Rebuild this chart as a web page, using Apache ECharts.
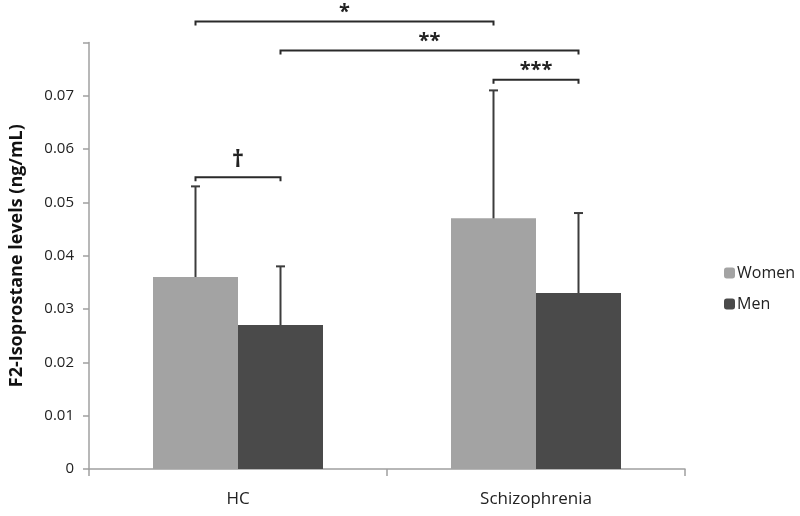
<!DOCTYPE html>
<html>
<head>
<meta charset="utf-8">
<script src="https://cdn.jsdelivr.net/npm/echarts@6/dist/echarts.min.js"></script>
<style>html,body{margin:0;padding:0;background:#fff}#c{width:800px;height:516px}</style>
</head>
<body>
<div id="c"></div>
<script>
// ---- data ----
const categories = ['HC', 'Schizophrenia'];
const womenMean = [0.036, 0.047];
const womenUpper = [0.053, 0.071];
const menMean = [0.027, 0.033];
const menUpper = [0.038, 0.048];
const yTicks = [0, 0.01, 0.02, 0.03, 0.04, 0.05, 0.06, 0.07];
// significance brackets: from (category, sex) to (category, sex), level, label  (sex: 0 women, 1 men)
const sigFromCat = [0, 0, 1, 0];
const sigFromSex = [0, 1, 0, 0];
const sigToCat = [1, 1, 1, 0];
const sigToSex = [0, 1, 1, 1];
const sigLevel = [0.0839, 0.0785, 0.0730, 0.0547];
const sigLabels = ['*', '**', '***', '\u2020'];

const FONT = '"Open Sans", "DejaVu Sans", sans-serif';
const BAR_W = 85;
const womenColor = '#a3a3a3';
const menColor = '#4a4a4a';

function errSeries(name, means, uppers, side) {
  return {
    type: 'custom',
    name: name + ' err',
    clip: false,
    z: 5,
    silent: true,
    data: means.map((m, i) => [i, m, uppers[i]]),
    encode: { x: 0, y: [1, 2] },
    renderItem: function (params, api) {
      const base = api.coord([api.value(0), api.value(1)]);
      const top = api.coord([api.value(0), api.value(2)]);
      const x = base[0] + side * BAR_W / 2;
      const st = { stroke: '#3c3c3c', lineWidth: 2 };
      return {
        type: 'group',
        children: [
          { type: 'line', shape: { x1: x, y1: base[1], x2: x, y2: top[1] }, style: st },
          { type: 'line', shape: { x1: x - 4.5, y1: top[1], x2: x + 4.5, y2: top[1] }, style: st }
        ]
      };
    }
  };
}

const sigData = sigLabels.map((l, i) => [sigFromCat[i], sigFromSex[i], sigToCat[i], sigToSex[i], sigLevel[i]]);

const option = {
  animation: false,
  backgroundColor: '#fff',
  textStyle: { fontFamily: FONT },
  grid: { left: 86, right: 115, top: 42.4, bottom: 47, containLabel: false },
  legend: {
    orient: 'vertical',
    left: 719,
    top: 260,
    itemWidth: 11,
    itemHeight: 11,
    itemGap: 15,
    data: ['Women', 'Men'],
    textStyle: { fontFamily: FONT, fontSize: 16, color: '#222', padding: [0, 0, 0, -3] }
  },
  xAxis: {
    type: 'category',
    data: categories,
    axisLine: { lineStyle: { color: '#a0a0a0', width: 1.5 } },
    axisTick: { show: true, length: 7, lineStyle: { color: '#a0a0a0', width: 1.5 } },
    axisLabel: { fontFamily: FONT, fontSize: 17, color: '#222', margin: 22 },
    splitLine: { show: false }
  },
  yAxis: {
    type: 'value',
    min: 0,
    max: 0.08,
    interval: 0.01,
    name: 'F2-Isoprostane levels (ng/mL)',
    nameLocation: 'middle',
    nameGap: 63,
    nameRotate: 90,
    nameTextStyle: { fontFamily: FONT, fontSize: 18, fontWeight: 'bold', color: '#111' },
    axisLine: { show: true, lineStyle: { color: '#a0a0a0', width: 1.5 } },
    axisTick: { show: true, length: 6, lineStyle: { color: '#a0a0a0', width: 1.5 } },
    axisLabel: {
      fontFamily: FONT, fontSize: 15, color: '#222', margin: 15,
      formatter: function (v) {
        const r = Math.round(v * 100) / 100;
        return yTicks.indexOf(r) >= 0 ? String(r) : '';
      }
    },
    splitLine: { show: false }
  },
  series: [
    { type: 'bar', name: 'Women', data: womenMean, barWidth: BAR_W, barGap: '0%', itemStyle: { color: womenColor } },
    { type: 'bar', name: 'Men', data: menMean, barWidth: BAR_W, barGap: '0%', itemStyle: { color: menColor } },
    errSeries('Women', womenMean, womenUpper, -1),
    errSeries('Men', menMean, menUpper, 1),
    {
      type: 'custom',
      name: 'sig',
      clip: false,
      silent: true,
      z: 6,
      data: sigData,
      encode: { x: [0, 2], y: 4 },
      renderItem: function (params, api) {
        const a = api.coord([api.value(0), api.value(4)]);
        const b = api.coord([api.value(2), api.value(4)]);
        const x1 = a[0] + (api.value(1) ? 1 : -1) * BAR_W / 2;
        const x2 = b[0] + (api.value(3) ? 1 : -1) * BAR_W / 2;
        const y = a[1];
        const st = { stroke: '#2a2a2a', lineWidth: 2, fill: null };
        const label = sigLabels[params.dataIndex];
        const isDagger = label === '\u2020';
        return {
          type: 'group',
          children: [
            { type: 'polyline', shape: { points: [[x1, y + 4], [x1, y], [x2, y], [x2, y + 4]] }, style: st },
            {
              type: 'text',
              x: (x1 + x2) / 2,
              y: isDagger ? y - 5 : y + 1,
              style: {
                text: label,
                fill: '#222',
                font: (isDagger ? 'bold 24px ' : 'bold 20px ') + FONT,
                align: 'center',
                verticalAlign: 'bottom'
              }
            }
          ]
        };
      }
    }
  ]
};

const chart = echarts.init(document.getElementById('c'), null, { renderer: 'canvas' });
chart.setOption(option);
</script>
</body>
</html>
